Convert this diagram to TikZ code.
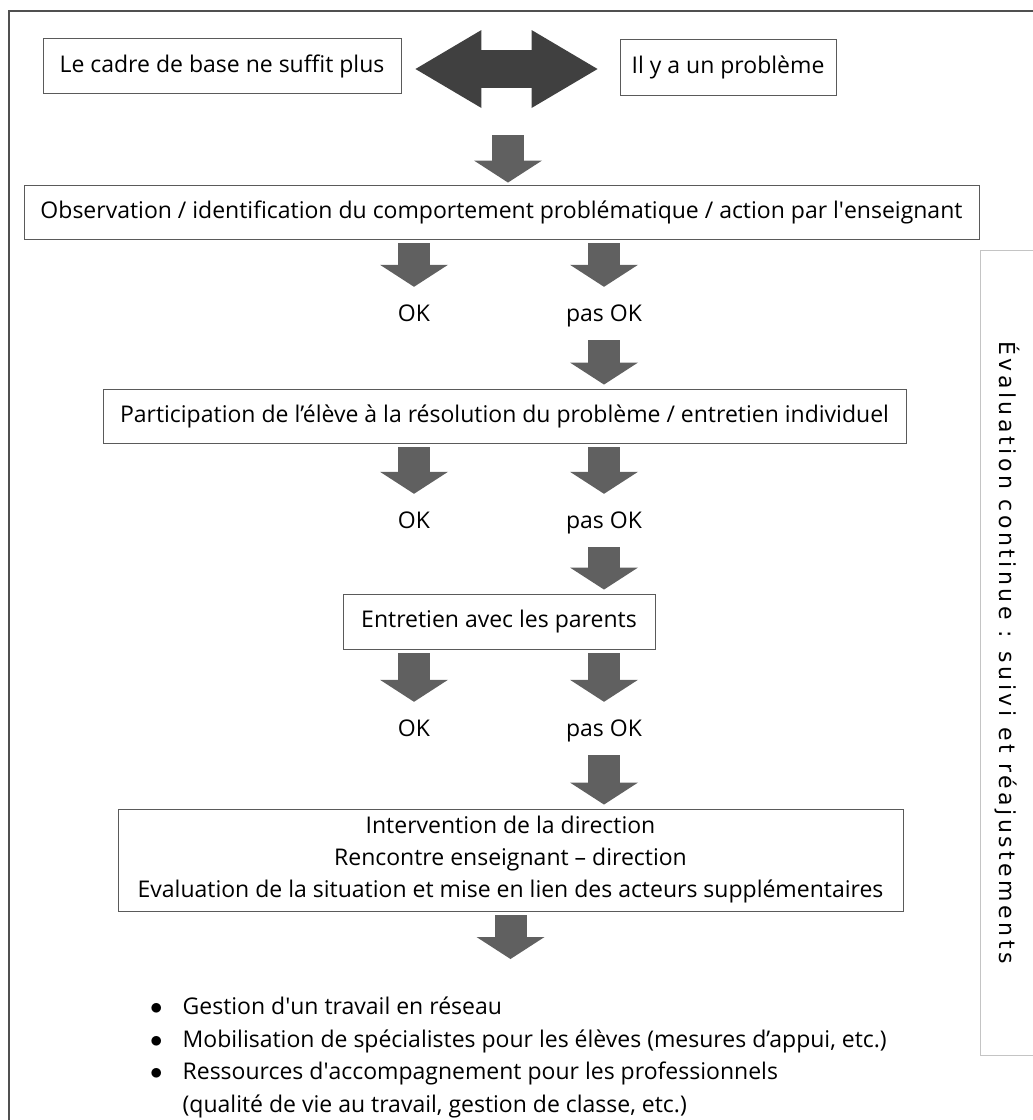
\documentclass[tikz,border=0pt]{standalone}
\usepackage{fontspec}
\setmainfont{Open Sans}
\newfontfamily\sidefont[LetterSpace=16]{DejaVu Sans}
\usetikzlibrary{arrows.meta,positioning}

\definecolor{framegrey}{HTML}{505050}
\definecolor{boxgrey}{HTML}{5A5A5A}
\definecolor{darkarrow}{HTML}{404040}
\definecolor{arrowgrey}{HTML}{606060}
\definecolor{sidegrey}{HTML}{C4C4C4}

\tikzset{
  stepbox/.style={draw=boxgrey,line width=0.9pt,inner xsep=8pt,align=center,font=\fontsize{23}{32}\selectfont},
  answer/.style={inner sep=0pt,text height=17pt,text depth=5pt,anchor=base,font=\fontsize{23}{26}\selectfont},
  downarrow/.style={draw=arrowgrey,line width=32pt,-{Triangle[length=22pt,width=68pt,line width=0pt]}},
  tolabel/.style={downarrow,shorten <=4pt,shorten >=17pt},
  tobox/.style={downarrow,shorten <=14pt,shorten >=4pt},
  sidebox/.style={draw=sidegrey,line width=0.9pt,font=\sidefont\fontsize{22}{24}\selectfont}
}

\begin{document}
\begin{tikzpicture}[x=1pt,y=-1pt]
  \useasboundingbox (0,0) rectangle (1033,1120);
  \draw[framegrey,line width=1.3pt] (1033,11) -- (9,11) -- (9,1120);

  % the two starting points
  \node[stepbox,minimum width=358pt,minimum height=55pt] (cadre) at (222,66) {Le cadre de base ne suffit plus};
  \node[stepbox,minimum width=216pt,minimum height=56pt] (probleme) at (728,67) {Il y a un problème};
  \draw[darkarrow,line width=38pt,
    {Triangle[length=66pt,width=78pt,line width=0pt]}-{Triangle[length=66pt,width=78pt,line width=0pt]},
    shorten <=14pt,shorten >=22pt]
    ([yshift=-3pt]cadre.east) -- ([yshift=-3pt]cadre.east -| probleme.west);
  \coordinate (pivot) at (508,69);

  % step 1
  \node[stepbox,minimum width=955pt,minimum height=54pt] (obs) at (501.5,212)
    {Observation / identification du comportement problématique / action par l\textquotesingle enseignant};
  \draw[downarrow,shorten <=66pt,shorten >=2pt] (pivot) -- (pivot |- obs.north);
  \node[answer] (ok1) at (414,321) {OK};
  \node[answer] (pasok1) at (604,321) {pas OK};
  \draw[tolabel] (obs.south -| ok1) -- (ok1.north);
  \draw[tolabel] (obs.south -| pasok1) -- (pasok1.north);

  % step 2
  \node[stepbox,minimum width=803pt,minimum height=54pt] (part) at (504.5,416)
    {Participation de l’élève à la résolution du problème / entretien individuel};
  \draw[tobox] (pasok1.south) -- (pasok1.south |- part.north);
  \node[answer] (ok2) at (414,528) {OK};
  \node[answer] (pasok2) at (604,528) {pas OK};
  \draw[tolabel] (part.south -| ok2) -- (ok2.north);
  \draw[tolabel] (part.south -| pasok2) -- (pasok2.north);

  % step 3
  \node[stepbox,minimum width=312pt,minimum height=55pt] (parents) at (499,621.5) {Entretien avec les parents};
  \draw[tobox] (pasok2.south) -- (pasok2.south |- parents.north);
  \node[answer] (ok3) at (414,736) {OK};
  \node[answer] (pasok3) at (604,736) {pas OK};
  \draw[tolabel] (parents.south -| ok3) -- (ok3.north);
  \draw[tolabel] (parents.south -| pasok3) -- (pasok3.north);

  % step 4
  \node[stepbox,minimum width=785pt,minimum height=102pt] (direction) at (510.5,860)
    {Intervention de la direction\\
     Rencontre enseignant – direction\\
     Evaluation de la situation et mise en lien des acteurs supplémentaires};
  \draw[tobox] (pasok3.south) -- (pasok3.south |- direction.north);

  \node[anchor=north west,inner sep=0pt,font=\fontsize{23}{32.5}\selectfont] (liste) at (150,992) {%
    \begin{tabular}{@{}l@{\hspace{20pt}}l@{}}
      $\bullet$ & Gestion d\textquotesingle un travail en réseau\\
      $\bullet$ & Mobilisation de spécialistes pour les élèves (mesures d’appui, etc.)\\
      $\bullet$ & Ressources d\textquotesingle accompagnement pour les professionnels\\
                & (qualité de vie au travail, gestion de classe, etc.)
    \end{tabular}};
  \draw[downarrow,shorten <=4pt,shorten >=33pt] (direction.south) -- (direction.south |- liste.north);

  % continuous evaluation
  \node[sidebox,rotate=-90,minimum width=805pt,minimum height=54pt] (suivi) at (1007,652.5)
    {Évaluation continue : suivi et réajustements};
\end{tikzpicture}
\end{document}
